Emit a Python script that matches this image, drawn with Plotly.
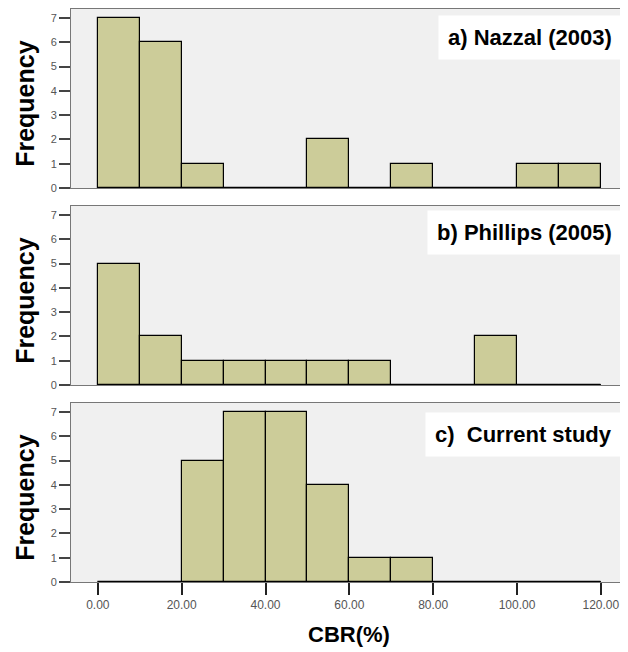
import plotly.graph_objects as go

# ---- data ----
bin_edges = [0, 10, 20, 30, 40, 50, 60, 70, 80, 90, 100, 110, 120]
counts_nazzal = [7, 6, 1, 0, 0, 2, 0, 1, 0, 0, 1, 1]
counts_phillips = [5, 2, 1, 1, 1, 1, 1, 0, 0, 2, 0, 0]
counts_current = [0, 0, 5, 7, 7, 4, 1, 1, 0, 0, 0, 0]
panel_labels = ["a) Nazzal (2003)", "b) Phillips (2005)", "c)\u00a0 Current study"]
x_ticks = [0, 20, 40, 60, 80, 100, 120]
x_tick_text = ["0.00", "20.00", "40.00", "60.00", "80.00", "100.00", "120.00"]
y_ticks = [0, 1, 2, 3, 4, 5, 6, 7]

centers = [(a + b) / 2 for a, b in zip(bin_edges[:-1], bin_edges[1:])]
widths = [b - a for a, b in zip(bin_edges[:-1], bin_edges[1:])]

FONT = "Liberation Sans, Arial, sans-serif"

fig = go.Figure()
series = [counts_nazzal, counts_phillips, counts_current]
domains = [[0.6876, 1.0], [0.3438, 0.6562], [0.0, 0.3124]]
label_yshift = [-6, -4, -9]
for i, counts in enumerate(series):
    ax = "" if i == 0 else str(i + 1)
    fig.add_trace(go.Bar(
        x=centers, y=counts, width=widths,
        marker=dict(color="#CCCC99", line=dict(color="black", width=1.2)),
        xaxis="x" + ax, yaxis="y" + ax, showlegend=False, hoverinfo="x+y"))
    # baseline across binned range
    fig.add_shape(type="line", x0=bin_edges[0], x1=bin_edges[-1], y0=0, y1=0,
                  xref="x" + ax, yref="y" + ax, line=dict(color="black", width=2))
    xa = dict(range=[-6.4, 126], domain=[0, 1], showgrid=False, zeroline=False,
              showline=True, linecolor="#777", linewidth=1, mirror=True,
              anchor="y" + ax, fixedrange=True)
    if i == 2:
        xa.update(tickmode="array", tickvals=x_ticks, ticktext=x_tick_text,
                  ticks="outside", ticklen=12, tickwidth=2, tickcolor="#222",
                  tickfont=dict(family=FONT, size=12, color="#555"))
    else:
        xa.update(showticklabels=False, ticks="")
    ya = dict(range=[0, 7.37], domain=domains[i], showgrid=False, zeroline=False,
              showline=True, linecolor="#777", linewidth=1, mirror=True,
              tickmode="array", tickvals=y_ticks, ticks="outside", ticklen=11,
              tickwidth=1.5, tickcolor="#444",
              tickfont=dict(family=FONT, size=11, color="#555"),
              anchor="x" + ax, fixedrange=True)
    fig.update_layout(**{"xaxis" + ax: xa, "yaxis" + ax: ya})

    # panel label in white box
    fig.add_annotation(text="<b>" + panel_labels[i] + "</b>",
                       xref="x" + ax + " domain", yref="y" + ax + " domain",
                       x=1, y=1, xanchor="right", yanchor="top",
                       xshift=-4, yshift=label_yshift[i], showarrow=False,
                       bgcolor="white", borderpad=9,
                       font=dict(family=FONT, size=22, color="black"))
    # y title
    fig.add_annotation(text="<b>Frequency</b>", textangle=-90,
                       xref="paper", yref="y" + ax + " domain",
                       x=0, y=0.47, xanchor="center", yanchor="middle",
                       xshift=-46, showarrow=False,
                       font=dict(family=FONT, size=25, color="black"))

fig.add_annotation(text="<b>CBR(%)</b>", xref="paper", yref="paper",
                   x=0.5, y=0, xanchor="center", yanchor="middle",
                   yshift=-52, showarrow=False,
                   font=dict(family=FONT, size=22, color="black"))

# page body has an 8px margin, so the figure is sized to fill the rest
fig.update_layout(width=620, height=644,
                  margin=dict(l=63, r=2, t=1, b=70),
                  plot_bgcolor="#F0F0F0", paper_bgcolor="white",
                  bargap=0)

fig.write_html("out.html")
